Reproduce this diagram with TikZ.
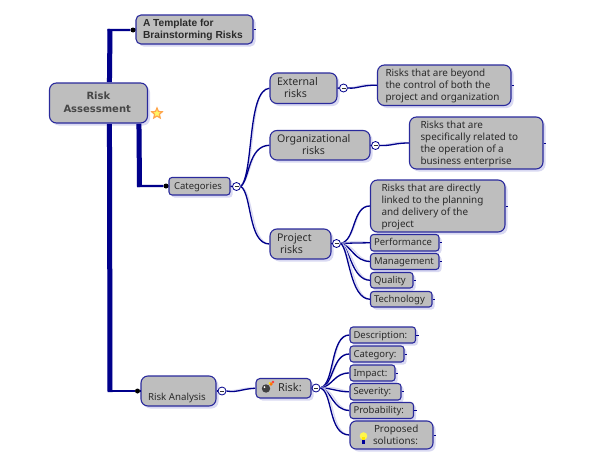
\documentclass[tikz,border=0pt]{standalone}
\usepackage{fontspec}
\setmainfont{Noto Sans}
\newfontfamily\boldA{Liberation Sans}[BoldFont={Liberation Sans Bold}]
\newfontfamily\boldB{DejaVu Sans}[BoldFont={DejaVu Sans Bold}]
\usetikzlibrary{shadows,shapes.geometric,calc}
\definecolor{boxfill}{HTML}{BEBEBE}
\definecolor{boxline}{HTML}{2A2A9C}
\definecolor{navyline}{HTML}{00008B}
\definecolor{lav}{HTML}{D9D9F2}
\definecolor{ink}{HTML}{2A2A2A}
\tikzset{
  box/.style={draw=boxline,line width=1.1pt,fill=boxfill,inner xsep=0pt,inner ysep=0pt,text=ink,
    font=\fontsize{9.9}{12}\selectfont,
    drop shadow={shadow xshift=2.5pt,shadow yshift=-2.5pt,fill=lav,opacity=1}},
  big/.style={rounded corners=7pt},
  head/.style={rounded corners=7pt,font=\fontsize{10.6}{12.5}\selectfont},
  small/.style={rounded corners=3pt,font=\fontsize{9.5}{12}\selectfont},
  minus/.style={circle,draw=navyline,line width=0.8pt,fill=white,minimum size=8pt,inner sep=0pt},
  dot/.style={circle,fill=black,minimum size=5pt,inner sep=0pt},
  cn/.style={draw=navyline,line width=1.3pt},
  cnshadow/.style={draw=lav,line width=1.3pt,shift={(2pt,2pt)}},
  trunk/.style={draw=navyline,line width=5pt},
  trunkshadow/.style={draw=lav,line width=5pt,shift={(3pt,0pt)}},
  arm/.style={draw=navyline,line width=2.4pt},
  stub/.style={draw=navyline,line width=0.9pt}
}
% [style]{name}{x1}{y1}{x2}{y2}{pad}{text}
\newcommand\bx[8][big]{%
  \pgfmathsetmacro\bw{#5-#3}\pgfmathsetmacro\bh{#6-#4}\pgfmathsetmacro\tw{#5-#3-2*#7}%
  \node[box,#1,minimum width=\bw pt,minimum height=\bh pt] (#2) at ({(#3+#5)/2},{(#4+#6)/2})
    {\raisebox{-0.8pt}[\height][\depth]{\makebox[\tw pt][l]{\begin{tabular}{@{}l@{}}#8\end{tabular}}}};%
}
\newcommand\cnx[2]{\draw[cnshadow] #1 #2; \draw[cn] #1 #2;}
\begin{document}
\begin{tikzpicture}[x=1pt,y=-1pt]
\useasboundingbox (0,0) rectangle (596,471);
\fill[white] (0,0) rectangle (596,471);
\bx[rounded corners=5pt,font=\boldA\bfseries\fontsize{10.2}{12}\selectfont]{tmpl}{136}{15}{253}{44}{7}{A Template for\\Brainstorming Risks}
\bx[big,font=\boldB\bfseries\fontsize{10}{13}\selectfont,text=black!72]{risk}{49.5}{83}{147.5}{123}{14}{\hspace*{23pt}Risk\\Assessment}
\bx[small]{cat}{169}{177.5}{230}{195}{5}{Categories}
\bx[head]{ext}{270}{73}{337}{103.5}{7}{External\\\hspace*{7pt}risks}
\bx[head]{org}{270}{130.5}{370}{160}{7}{Organizational\\\hspace*{25pt}risks}
\bx[head]{proj}{270}{229}{331}{259}{7}{Project\\\hspace*{3pt}risks}
\bx{beyond}{377.5}{65}{511}{105.5}{8}{Risks that are beyond\\the control of both the\\project and organization}
\bx{spec}{409.5}{117}{543}{169}{11}{Risks that are\\specifically related to\\the operation of a\\business enterprise}
\bx{direct}{370.5}{180}{505}{232}{11}{Risks that are directly\\linked to the planning\\and delivery of the\\project}
\bx[small]{perf}{370.5}{234.5}{439}{251}{3.5}{Performance}
\bx[small]{mgmt}{370.5}{253.5}{439}{269.5}{3.5}{Management}
\bx[small]{qual}{370.5}{272.5}{413}{288}{3.5}{Quality}
\bx[small]{tech}{370.5}{291.5}{432}{307}{3.5}{Technology}
\bx[big,font=\fontsize{9.7}{12}\selectfont]{ra}{141}{376}{216}{406}{7}{\raisebox{-6pt}[0pt][0pt]{Risk Analysis}}
\bx[rounded corners=4pt,font=\fontsize{11}{12}\selectfont]{rk}{256}{378.5}{311}{398}{5}{\hspace*{17pt}Risk:}
\bx[small]{desc}{350}{327}{415.5}{343}{3.5}{Description:}
\bx[small]{catg}{350}{346}{404}{362}{3.5}{Category:}
\bx[small]{imp}{350}{365}{395}{381}{3.5}{Impact:}
\bx[small]{sev}{350}{383.5}{401}{400}{3.5}{Severity:}
\bx[small]{prob}{350}{402.5}{413.5}{418.5}{3.5}{Probability:}
\bx[rounded corners=6pt]{prop}{350}{421}{433}{449}{5}{\hspace*{19pt}Proposed\\\hspace*{18pt}solutions:}
\foreach \n in {tmpl,beyond,spec,direct,perf,mgmt,qual,tech,desc,catg,imp,sev,prob,prop}{\draw[stub] (\n.east) -- ++(2.5,0);}
% minus circles
\node[minus] (mcat) at (236.5,186.5) {};
\node[minus] (mext) at (343.5,88) {};
\node[minus] (morg) at (375.5,145.5) {};
\node[minus] (mproj) at (336.5,243.5) {};
\node[minus] (mra) at (222,391) {};
\node[minus] (mrk) at (316,388) {};
\foreach \m in {mcat,mext,morg,mproj,mra,mrk}{\draw[line width=1pt,black!80] ($(\m)+(-2,0)$) -- ($(\m)+(2,0)$);}
% trunks
\coordinate (bendT) at (110,30);
\coordinate (bendB) at (110,391);
\coordinate (bendC) at (139.5,186);
\coordinate (riskTop) at ($(risk.north west)+(60.5,0)$);
\coordinate (riskBot) at ($(risk.south west)+(60.5,0)$);
\coordinate (riskBot2) at ($(risk.south west)+(90,0)$);
\node[dot] (dT) at (133,30) {};
\node[dot] (dC) at (166,186) {};
\node[dot] (dB) at (137.5,391) {};
\draw[trunkshadow] (riskTop) -- (bendT);
\draw[trunkshadow] (riskBot) -- (bendB);
\draw[trunkshadow] (riskBot2) -- (bendC);
\draw[trunk] (riskTop) -- ($(bendT)+(0,-1)$);
\draw[trunk] (riskBot) -- ($(bendB)+(0,1)$);
\draw[trunk] (riskBot2) -- ($(bendC)+(0,1)$);
\draw[arm] ($(bendT)+(-2.5,0)$) -- (dT) -- (tmpl.west);
\draw[arm] ($(bendB)+(-2.5,0)$) -- (dB) -- (ra.west);
\draw[arm] ($(bendC)+(-2.5,0)$) -- (dC) -- (cat.west);
% connectors
\draw[cn] (cat.east) -- (mcat.west);
\draw[cn] (ext.east) -- (mext.west);
\draw[cn] (org.east) -- (morg.west);
\draw[cn] (proj.east) -- (mproj.west);
\draw[cn] (ra.east) -- (mra.west);
\draw[cn] (rk.east) -- (mrk.west);
\cnx{(mcat.east)}{.. controls (254,172) and (247,90) .. (ext.west)}
\cnx{(mcat.east)}{.. controls (250,178) and (248,146) .. (org.west)}
\cnx{(mcat.east)}{.. controls (252,194) and (248,244) .. (proj.west)}
\cnx{(mext.east)}{.. controls (358,89) and (360,85) .. (beyond.west)}
\cnx{(morg.east)}{.. controls (392,146) and (394,143) .. (spec.west)}
\cnx{(mproj.east)}{.. controls (356,240) and (352,206) .. (direct.west)}
\cnx{(mproj.east)}{.. controls (350,243) and (360,243) .. (perf.west)}
\cnx{(mproj.east)}{.. controls (352,246) and (354,261) .. (mgmt.west)}
\cnx{(mproj.east)}{.. controls (350,248) and (352,280) .. (qual.west)}
\cnx{(mproj.east)}{.. controls (349,250) and (350,299) .. (tech.west)}
\cnx{(mra.east)}{.. controls (238,393) and (240,389) .. (rk.west)}
\cnx{(mrk.east)}{.. controls (335,384) and (330,335) .. (desc.west)}
\cnx{(mrk.east)}{.. controls (334,385) and (332,354) .. (catg.west)}
\cnx{(mrk.east)}{.. controls (333,386) and (334,373) .. (imp.west)}
\cnx{(mrk.east)}{.. controls (332,388) and (338,392) .. (sev.west)}
\cnx{(mrk.east)}{.. controls (332,390) and (332,410) .. (prob.west)}
\cnx{(mrk.east)}{.. controls (333,392) and (328,435) .. (prop.west)}
% star
\node[star,star points=5,star point ratio=2.2,fill=yellow!60!white,draw=orange!70,line width=1.2pt,minimum size=11pt,inner sep=0pt] (starmark) at (157,113.5) {};
% bomb icon
\fill[black!75] (266,388.5) circle (4.2);
\fill[white] (264.5,387) circle (1);
\fill[orange!90!red] (271,384) circle (1.8);
\fill[red!70!pink] (273,382) circle (1.4);
\fill[yellow!90!orange] (269.5,383) circle (1);
% bulb icon
\fill[yellow!70!white] (363.5,436) circle (3.8);
\fill[yellow!90!orange] (362,437) rectangle (365,440);
\fill[blue!60!black] (361.8,440) rectangle (365.2,444);
\end{tikzpicture}
\end{document}
